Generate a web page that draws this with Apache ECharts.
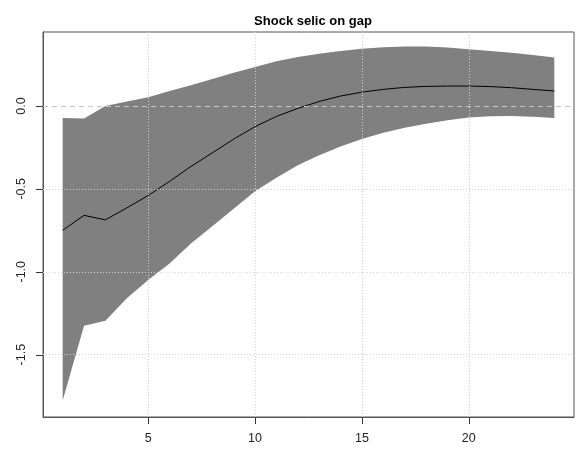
<!DOCTYPE html>
<html>
<head>
<meta charset="utf-8">
<script src="https://cdn.jsdelivr.net/npm/echarts@6/dist/echarts.min.js"></script>
<style>
  html, body { margin: 0; padding: 0; background: #ffffff; }
  #chart { width: 576px; height: 450px; }
</style>
</head>
<body>
<div id="chart"></div>
<script>
// Impulse response horizons
const horizons = [1,2,3,4,5,6,7,8,9,10,11,12,13,14,15,16,17,18,19,20,21,22,23,24];
// Point response of gap to a selic shock
const response = [-0.75,-0.66,-0.687,-0.615,-0.54,-0.455,-0.365,-0.283,-0.2,-0.125,-0.063,-0.015,0.027,0.06,0.083,0.1,0.112,0.118,0.12,0.12,0.117,0.11,0.1,0.09];
// Confidence band bounds
const lower = [-1.777,-1.325,-1.295,-1.16,-1.05,-0.95,-0.83,-0.725,-0.62,-0.515,-0.433,-0.357,-0.297,-0.245,-0.2,-0.162,-0.132,-0.107,-0.087,-0.07,-0.062,-0.06,-0.065,-0.073];
const upper = [-0.072,-0.076,0.0,0.027,0.053,0.09,0.125,0.162,0.2,0.235,0.27,0.295,0.315,0.332,0.345,0.354,0.358,0.358,0.352,0.342,0.332,0.321,0.307,0.292];
// Tick / grid positions
const xTicks = [5, 10, 15, 20];
const yTicks = [-1.5, -1.0, -0.5, 0.0];

const X_MIN = 0.08, X_MAX = 24.92;
const Y_MIN = -1.876, Y_MAX = 0.446;
const font = 'Liberation Sans, Arial, sans-serif';

const bandData = horizons.map((h, i) => [h, lower[i], upper[i]]);
const meanLine = horizons.map((h, i) => [h, response[i]]);

const gridLines = [];
xTicks.forEach(v => gridLines.push({ xAxis: v, lineStyle: { type: [1, 2], color: '#d3d3d3', width: 1 } }));
yTicks.forEach(v => {
  if (v === 0) {
    gridLines.push({ yAxis: v, lineStyle: { type: [5, 4], color: '#c4c4c4', width: 1 } });
  } else {
    gridLines.push({ yAxis: v, lineStyle: { type: [1, 2], color: '#d3d3d3', width: 1 } });
  }
});

// Band polygon: upper edge left to right, then lower edge right to left
function renderBand(params, api) {
  if (params.dataIndex !== 0) return null;
  const pts = [];
  for (let i = 0; i < horizons.length; i++) pts.push(api.coord([horizons[i], upper[i]]));
  for (let i = horizons.length - 1; i >= 0; i--) pts.push(api.coord([horizons[i], lower[i]]));
  return {
    type: 'polygon',
    shape: { points: pts },
    style: { fill: '#808080', stroke: null }
  };
}

// Outward tick marks on the bottom and left edges of the plot box
const TICK_LEN = 7;
function renderTicks(params, api) {
  if (params.dataIndex !== 0) return null;
  const children = [];
  const tickStyle = { stroke: '#333', lineWidth: 1 };
  xTicks.forEach(v => {
    const p = api.coord([v, Y_MIN]);
    const x = Math.round(p[0]) + 0.5;
    children.push({ type: 'line', shape: { x1: x, y1: p[1], x2: x, y2: p[1] + TICK_LEN }, style: tickStyle });
  });
  yTicks.forEach(v => {
    const p = api.coord([X_MIN, v]);
    const y = Math.round(p[1]) + 0.5;
    children.push({ type: 'line', shape: { x1: p[0] - TICK_LEN, y1: y, x2: p[0], y2: y }, style: tickStyle });
  });
  return { type: 'group', children: children };
}

const chart = echarts.init(document.getElementById('chart'), null, { renderer: 'canvas' });
chart.setOption({
  animation: false,
  backgroundColor: '#ffffff',
  title: {
    text: 'Shock selic on gap',
    left: 308, top: 10, textAlign: 'center',
    textStyle: { fontFamily: font, fontSize: 13, fontWeight: 'bold', color: '#000' }
  },
  grid: {
    left: 43, top: 32, width: 531, height: 385,
    show: true, borderColor: '#555', borderWidth: 1, backgroundColor: 'transparent'
  },
  xAxis: {
    type: 'value', min: X_MIN, max: X_MAX, splitNumber: 5,
    axisLine: { show: true, onZero: false, lineStyle: { color: '#555', width: 1 } },
    splitLine: { show: false },
    axisTick: { show: false },
    axisLabel: { showMinLabel: false, showMaxLabel: false, margin: 15, fontFamily: font, fontSize: 12.5, color: '#222' }
  },
  yAxis: {
    type: 'value', min: Y_MIN, max: Y_MAX, splitNumber: 5,
    axisLine: { show: true, onZero: false, lineStyle: { color: '#555', width: 1 } },
    splitLine: { show: false },
    axisTick: { show: false },
    axisLabel: {
      showMinLabel: false, showMaxLabel: false, rotate: 90, margin: 15,
      fontFamily: font, fontSize: 12.5, color: '#222',
      formatter: v => v.toFixed(1)
    }
  },
  series: [
    {
      type: 'custom', data: bandData, renderItem: renderBand,
      encode: { x: 0, y: [1, 2] }, z: 2, silent: true, clip: true
    },
    {
      type: 'line', data: [], z: 3, silent: true,
      markLine: { silent: true, symbol: 'none', label: { show: false }, data: gridLines, animation: false }
    },
    {
      type: 'line', data: meanLine, symbol: 'none',
      lineStyle: { color: '#000', width: 1 }, z: 4, silent: true
    },
    {
      type: 'custom', data: [[X_MIN, Y_MIN]], renderItem: renderTicks,
      encode: { x: 0, y: 1 }, z: 5, silent: true, clip: false
    }
  ]
});
</script>
</body>
</html>
